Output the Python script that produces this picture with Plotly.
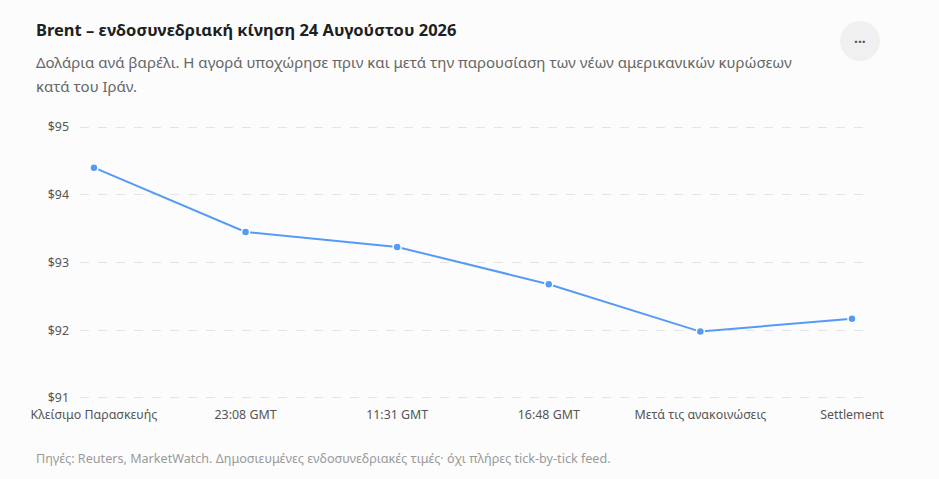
import plotly.graph_objects as go

# --- Data ---
labels = ["Κλείσιμο Παρασκευής", "23:08 GMT", "11:31 GMT", "16:48 GMT",
          "Μετά τις ανακοινώσεις", "Settlement"]
brent_usd = [94.40, 93.45, 93.23, 92.68, 91.98, 92.17]
y_ticks = [91, 92, 93, 94, 95]

title_text = "Brent – ενδοσυνεδριακή κίνηση 24 Αυγούστου 2026"
subtitle_1 = "Δολάρια ανά βαρέλι. Η αγορά υποχώρησε πριν και μετά την παρουσίαση των νέων αμερικανικών κυρώσεων"
subtitle_2 = "κατά του Ιράν."
source_text = "Πηγές: Reuters, MarketWatch. Δημοσιευμένες ενδοσυνεδριακές τιμές· όχι πλήρες tick-by-tick feed."

FONT = "Noto Sans"
BG = "#fcfcfc"
W, H = 939, 479
L, R, T, B = 80, 74, 126, 80
pw, ph = W - L - R, H - T - B


def px_x(x):
    return (x - L) / pw


def px_y(y):
    return 1 - (y - T) / ph


fig = go.Figure(go.Scatter(
    x=labels, y=brent_usd, mode="lines+markers",
    line=dict(color="#559bf5", width=2),
    marker=dict(size=8, color="#559bf5", line=dict(color="#ffffff", width=1.5)),
    hovertemplate="%{x}<br>$%{y:.2f}<extra></extra>",
    cliponaxis=False,
))

fig.update_layout(
    width=W, height=H,
    margin=dict(l=L, r=R, t=T, b=B),
    paper_bgcolor=BG, plot_bgcolor=BG,
    font=dict(family=FONT, color="#555555", size=12),
    showlegend=False,
    xaxis=dict(type="category", range=[-0.092, 5.086], showgrid=False, zeroline=False,
               showline=False, ticks="", ticklabelstandoff=7,
               tickfont=dict(size=12.4, color="#555555")),
    # range padded a hair so the $91 and $95 gridlines are drawn
    yaxis=dict(range=[90.985, 95.015], tickvals=y_ticks, ticktext=[f"${v}" for v in y_ticks],
               showgrid=True, gridcolor="#e4e4e4", griddash="dash", gridwidth=1,
               zeroline=False, showline=False, ticks="", ticklabelstandoff=10,
               tickfont=dict(size=12.4, color="#555555")),
)

fig.add_annotation(text="<b>" + title_text + "</b>", xref="paper", yref="paper",
                   x=px_x(34), y=px_y(30), xanchor="left", yanchor="middle",
                   showarrow=False, font=dict(size=16.5, color="#1f1f1f", family=FONT))
fig.add_annotation(text=subtitle_1, xref="paper", yref="paper",
                   x=px_x(34), y=px_y(62), xanchor="left", yanchor="middle",
                   showarrow=False, font=dict(size=15, color="#666666", family=FONT))
fig.add_annotation(text=subtitle_2, xref="paper", yref="paper",
                   x=px_x(34), y=px_y(86), xanchor="left", yanchor="middle",
                   showarrow=False, font=dict(size=15, color="#666666", family=FONT))
fig.add_annotation(text=source_text, xref="paper", yref="paper",
                   x=px_x(34), y=px_y(458), xanchor="left", yanchor="middle",
                   showarrow=False, font=dict(size=12.6, color="#9a9a9a", family=FONT))

# menu button ("...")
fig.add_shape(type="circle", xref="paper", yref="paper", xsizemode="pixel", ysizemode="pixel",
              xanchor=px_x(860), yanchor=px_y(41), x0=-20, x1=20, y0=-20, y1=20,
              fillcolor="#f0f0f0", line=dict(width=0), layer="below")
fig.add_annotation(text="<b>···</b>", xref="paper", yref="paper",
                   x=px_x(860), y=px_y(41), xanchor="center", yanchor="middle",
                   showarrow=False, font=dict(size=14, color="#555555", family=FONT))

fig.write_html("out.html", config={"displayModeBar": False},
               post_script="document.body.style.margin='0';"
                           "document.body.style.background='" + BG + "';")
